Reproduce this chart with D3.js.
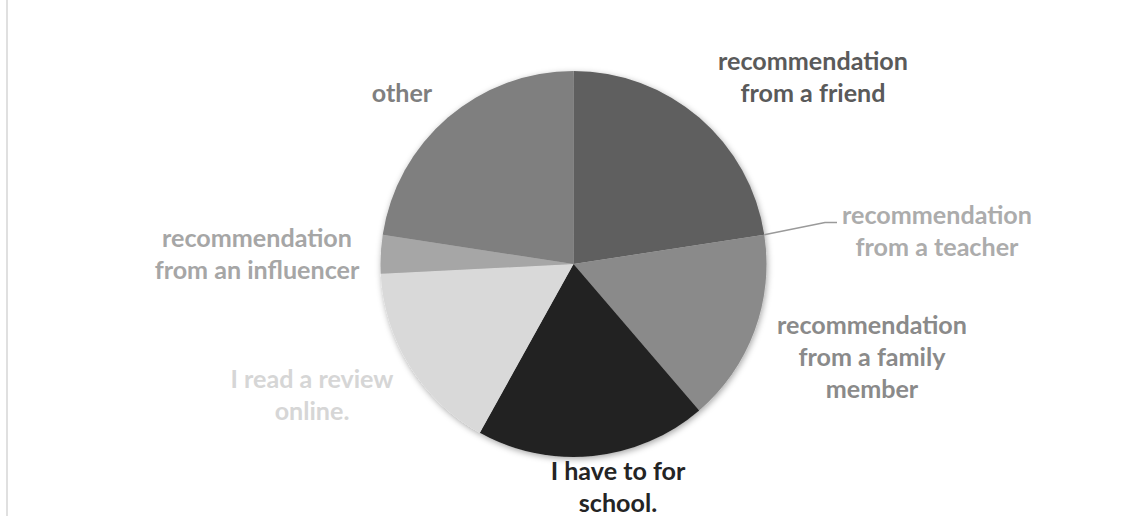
<!DOCTYPE html>
<html><head><meta charset="utf-8">
<script src="https://cdn.jsdelivr.net/npm/d3@7"></script>
<style>html,body{margin:0;padding:0;background:#fff;}svg{display:block;}</style>
</head><body>
<script>
// ---- data ----
const categories = ["recommendation from a friend","recommendation from a teacher","recommendation from a family member","I have to for school.","I read a review online.","recommendation from an influencer","other"];
const values = [7, 0, 5, 6, 5, 1, 7];
const colors = ["#5f5f5f","#a6a6a6","#8a8a8a","#242424","#d9d9d9","#a6a6a6","#7f7f7f"];
const labelLines = [["recommendation","from a friend"],["recommendation","from a teacher"],["recommendation","from a family","member"],["I have to for","school."],["I read a review","online."],["recommendation","from an influencer"],["other"]];
const labelColors = ["#5a5a5a","#acacac","#8a8a8a","#242424","#d6d6d6","#a6a6a6","#7f7f7f"];
// ---- layout ----
const W = 1130, H = 516;
const cx = 573.5, cy = 264, R = 193;
const labelCenters = [[813,77],[937,231],[872,357],[618,487],[312,395],[257,254],[402,93]];
const lineGap = 32;

const svg = d3.select("body").append("svg").attr("width", W).attr("height", H);
svg.append("rect").attr("width", W).attr("height", H).attr("fill", "#fff");
svg.append("line").attr("x1", 7).attr("x2", 7).attr("y1", 0).attr("y2", H)
  .attr("stroke", "#d9d9d9").attr("stroke-width", 1.6);

const defs = svg.append("defs");
const f = defs.append("filter").attr("id", "sh").attr("x", "-20%").attr("y", "-20%").attr("width", "140%").attr("height", "140%");
f.append("feDropShadow").attr("dx", 1).attr("dy", 2).attr("stdDeviation", 3).attr("flood-color", "#000").attr("flood-opacity", 0.35);

const pie = d3.pie().sort(null).value(d => d)(values);
const arc = d3.arc().innerRadius(0).outerRadius(R);
const g = svg.append("g").attr("transform", `translate(${cx},${cy})`);
g.append("g").attr("filter", "url(#sh)").selectAll("path").data(pie).join("path")
  .attr("d", arc).attr("fill", (d, i) => colors[i]);

// leader line for the zero slice (teacher)
const tSlice = pie[1];
const ang = tSlice.startAngle;
const p0 = [Math.sin(ang) * R, -Math.cos(ang) * R];
svg.append("polyline")
  .attr("points", [[cx + p0[0], cy + p0[1]], [825, 222.5], [837, 222.5]].map(p => p.join(",")).join(" "))
  .attr("fill", "none").attr("stroke", "#9a9a9a").attr("stroke-width", 1.5);

// font size calibrated so "recommendation" spans ~190px
const fam = "Lato, 'Open Sans', sans-serif";
const probe = svg.append("text").attr("font-family", fam).attr("font-weight", "bold").attr("font-size", 100).text("recommendation");
const wProbe = probe.node().getComputedTextLength();
probe.remove();
const fs = 100 * 190 / wProbe;

const lg = svg.append("g").attr("font-family", fam).attr("font-weight", "bold").attr("font-size", fs).attr("text-anchor", "middle");
labelLines.forEach((lines, i) => {
  const [x, y] = labelCenters[i];
  const t = lg.append("text").attr("fill", labelColors[i]);
  const n = lines.length;
  lines.forEach((s, k) => {
    t.append("tspan").attr("x", x).attr("y", y + (k - (n - 1) / 2) * lineGap).attr("dy", "0.35em").text(s);
  });
});
</script>
</body></html>
